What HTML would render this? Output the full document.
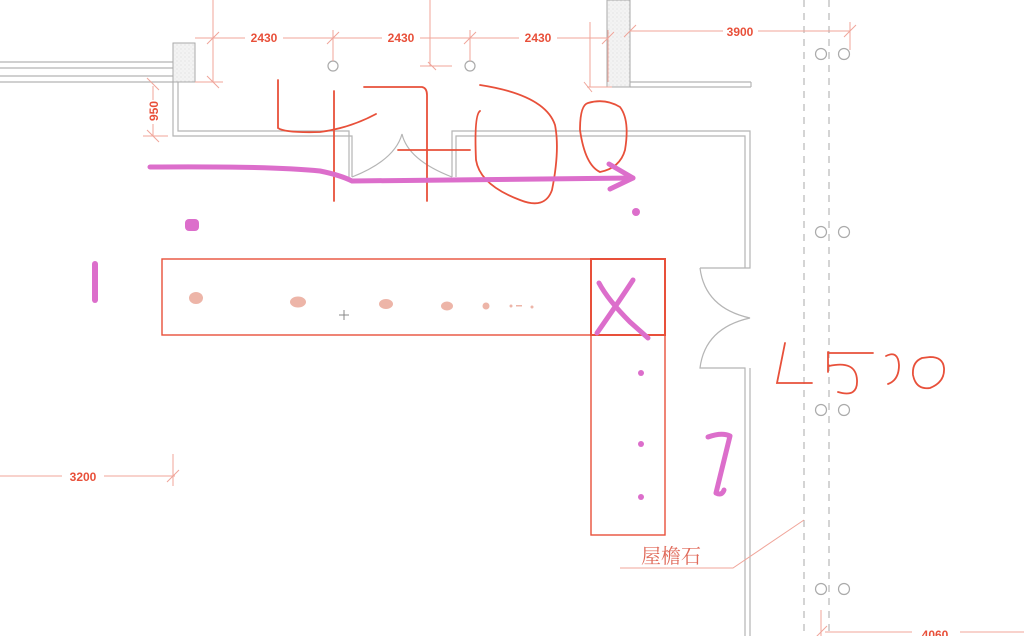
<!DOCTYPE html>
<html><head><meta charset="utf-8"><style>
html,body{margin:0;padding:0;background:#fff;width:1024px;height:636px;overflow:hidden}
svg{display:block}
.d{font-family:"Liberation Sans",sans-serif;font-size:12px;fill:#e8503a;font-weight:bold}
</style></head><body>
<svg width="1024" height="636" viewBox="0 0 1024 636" xmlns="http://www.w3.org/2000/svg">
<defs><pattern id="h" width="4" height="4" patternUnits="userSpaceOnUse"><rect width="4" height="4" fill="#f3f3f3"/><circle cx="1" cy="1" r="0.5" fill="#ccc"/><circle cx="3" cy="3" r="0.4" fill="#ddd"/></pattern></defs>
<rect width="1024" height="636" fill="#fff"/>
<g stroke="#b5b5b5" stroke-width="1.2" fill="none">
<line x1="0" y1="62" x2="173" y2="62"/><line x1="0" y1="68" x2="173" y2="68"/>
<line x1="0" y1="76" x2="173" y2="76"/><line x1="0" y1="82" x2="173" y2="82"/>
<path d="M173 82 V136 H352 V177 M178 82 V131 H349 V177"/>
<path d="M452 177 V131 H750 V268 H700 M456 177 V136 H745 V268"/>
<path d="M352 177 Q395 160 402 134 Q408 160 452 177"/>
<path d="M700 268 Q705 308 750 318 Q705 328 700 368 H745 V636 M750 368 V636"/>
<line x1="630" y1="82" x2="751" y2="82"/><line x1="630" y1="87" x2="751" y2="87"/><line x1="751" y1="82" x2="751" y2="87"/>
</g>
<rect x="173" y="43" width="22" height="39" fill="url(#h)" stroke="#aaa"/>
<rect x="607" y="0" width="23" height="87" fill="url(#h)" stroke="#aaa"/>
<g stroke="#aaa" stroke-width="1" stroke-dasharray="7,6"><line x1="804" y1="0" x2="804" y2="636"/><line x1="829" y1="0" x2="829" y2="636"/></g>
<g stroke="#aaa" fill="none" stroke-width="1.2">
<circle cx="333" cy="66" r="5"/><circle cx="470" cy="66" r="5"/>
<circle cx="821" cy="54" r="5.5"/><circle cx="844" cy="54" r="5.5"/>
<circle cx="821" cy="232" r="5.5"/><circle cx="844" cy="232" r="5.5"/>
<circle cx="821" cy="410" r="5.5"/><circle cx="844" cy="410" r="5.5"/>
<circle cx="821" cy="589" r="5.5"/><circle cx="844" cy="589" r="5.5"/>
</g>
<g stroke="#f0a59a" stroke-width="1" fill="none">
<path d="M195 38 H245 M283 38 H382 M420 38 H519 M557 38 H608"/>
<path d="M213 0 V82 M195 82 H223 M333 30 V61 M470 30 V61 M430 0 V66 M420 66 H452 M608 30 V82 M587 87 H612 M590 22 V87"/>
<path d="M207 44 L219 32 M327 44 L339 32 M464 44 L476 32 M602 44 L614 32 M207 76 L219 88 M428 62 L436 70 M584 82 L592 92"/>
<path d="M630 31 H723 M758 31 H850 M850 22 V50 M844 37 L856 25 M624 37 L636 25"/>
<path d="M153 86 V100 M153 124 V136 M143 136 H168 M147 130 L159 142 M147 78 L159 90"/>
<path d="M0 476 H62 M104 476 H175 M173 454 V486 M167 482 L179 470"/>
<path d="M821 610 V636 M825 632 H912 M960 632 H1024 M815 638 L827 626"/>
<path d="M620 568 H733 L804 520"/>
</g>
<text class="d" x="264" y="42" text-anchor="middle">2430</text>
<text class="d" x="401" y="42" text-anchor="middle">2430</text>
<text class="d" x="538" y="42" text-anchor="middle">2430</text>
<text class="d" x="740" y="36" text-anchor="middle">3900</text>
<text class="d" x="83" y="481" text-anchor="middle">3200</text>
<text class="d" x="935" y="639" text-anchor="middle">4060</text>
<text class="d" transform="translate(158,111) rotate(-90)" text-anchor="middle">950</text>
<text x="641" y="563" font-family="'Liberation Serif','Noto Serif CJK SC',serif" font-size="20" fill="#e06a5a">屋檐石</text>
<g stroke="#e8503a" fill="none" stroke-width="1.4">
<rect x="162" y="259" width="503" height="76"/>
<rect x="591" y="259" width="74" height="276"/>
<rect x="591" y="259" width="74" height="76" stroke-width="2"/>
</g>
<g fill="#edb5a8">
<ellipse cx="196" cy="298" rx="7" ry="6"/><ellipse cx="298" cy="302" rx="8" ry="5.5"/>
<ellipse cx="386" cy="304" rx="7" ry="5"/><ellipse cx="447" cy="306" rx="6" ry="4.5"/>
<circle cx="486" cy="306" r="3.5"/><circle cx="511" cy="306" r="1.5"/><rect x="516" y="305" width="6" height="1.5"/><circle cx="532" cy="307" r="1.5"/>
</g>
<path d="M344 310 V320 M339 315 H349" stroke="#888" stroke-width="1"/>
<g stroke="#e8503a" fill="none" stroke-width="1.8" stroke-linecap="round">
<path d="M278 80 V128 Q285 133 320 132 Q350 128 376 114"/>
<path d="M334 91 V201"/>
<path d="M364 87 H422 Q427 88 427 95 V201"/>
<path d="M398 150 H470"/>
<path d="M480 111 Q474 115 476 160 Q480 185 520 200 Q545 210 552 190 Q560 150 555 125 Q545 95 480 85"/>
<path d="M588 103 Q580 105 580 130 Q585 165 600 172 Q620 168 625 150 Q630 120 620 107 Q605 98 588 103"/>
<path d="M785 343 L777 383 H812"/>
<path d="M828 352 V372 M829 353 H873 M829 366 Q856 360 857 380 Q858 398 838 392"/>
<path d="M886 356 Q898 350 899 365 Q899 380 888 384"/>
<path d="M922 358 Q912 362 913 375 Q916 390 930 388 Q945 382 944 368 Q943 357 930 357 Z"/>
</g>
<g stroke="#dc6ecb" fill="none" stroke-width="5" stroke-linecap="round" stroke-linejoin="round">
<path d="M150 167 Q270 166 320 171 Q340 175 352 181 L633 178"/>
<path d="M609 164 L633 178 L610 189"/>
<path d="M95 264 V300" stroke-width="6"/>
<path d="M599 283 Q608 300 630 322 L648 338 M633 280 Q620 300 597 333"/>
<path d="M708 437 Q722 432 730 436 L716 493 Q722 496 724 490"/>
</g>
<g fill="#dc6ecb">
<rect x="185" y="219" width="14" height="12" rx="4"/>
<circle cx="636" cy="212" r="4"/>
<circle cx="641" cy="373" r="3"/><circle cx="641" cy="444" r="3"/><circle cx="641" cy="497" r="3"/>
</g>
</svg>
</body></html>
